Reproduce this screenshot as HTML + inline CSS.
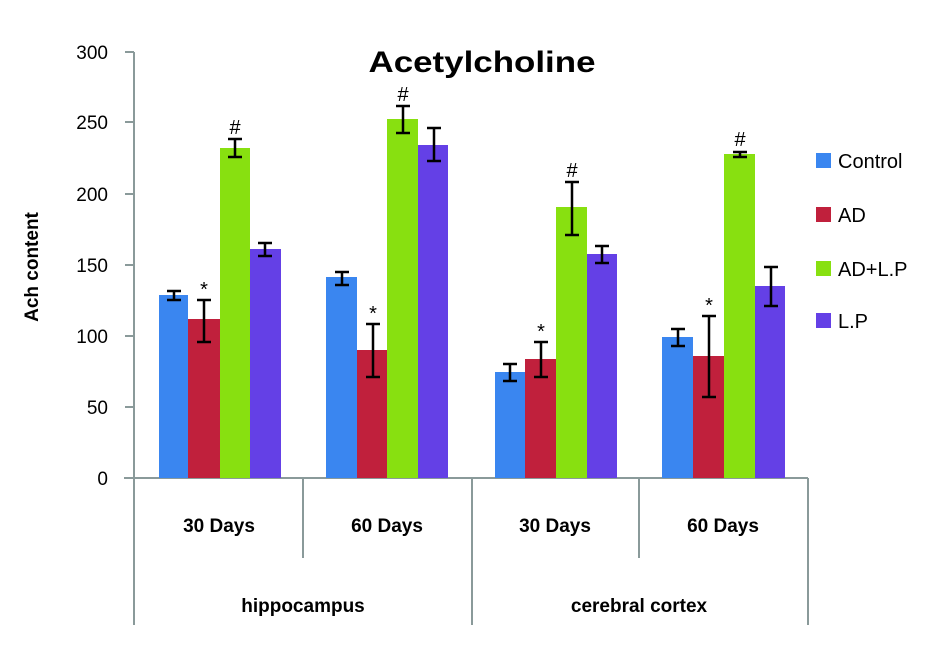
<!DOCTYPE html>
<html><head><meta charset="utf-8"><style>body{margin:0;background:#fff}svg{display:block}</style></head><body>
<svg width="948" height="654" xmlns="http://www.w3.org/2000/svg" font-family="Liberation Sans, sans-serif">
<rect width="948" height="654" fill="#fff"/>
<text x="482" y="72" font-size="30" font-weight="bold" text-anchor="middle" textLength="227" lengthAdjust="spacingAndGlyphs">Acetylcholine</text>
<g stroke="#8a9a9a" stroke-width="2" fill="none">
<line x1="134" y1="52" x2="134" y2="625"/>
<line x1="124" y1="478" x2="808" y2="478"/>
<line x1="125" y1="52" x2="134" y2="52"/><line x1="125" y1="122" x2="134" y2="122"/><line x1="125" y1="194" x2="134" y2="194"/><line x1="125" y1="265" x2="134" y2="265"/><line x1="125" y1="336" x2="134" y2="336"/><line x1="125" y1="407" x2="134" y2="407"/>
<line x1="303" y1="478" x2="303" y2="558"/><line x1="472" y1="478" x2="472" y2="625"/><line x1="639" y1="478" x2="639" y2="558"/><line x1="808" y1="478" x2="808" y2="625"/>
</g>
<g font-size="19" text-anchor="end" fill="#000">
<text x="108" y="59">300</text><text x="108" y="129">250</text><text x="108" y="201">200</text><text x="108" y="272">150</text><text x="108" y="343">100</text><text x="108" y="414">50</text><text x="108" y="485">0</text>
</g>
<text transform="translate(38,267) rotate(-90)" font-size="19" font-weight="bold" text-anchor="middle">Ach content</text>
<g font-size="19" font-weight="bold" text-anchor="middle">
<text x="219" y="532">30 Days</text><text x="387" y="532">60 Days</text><text x="555" y="532">30 Days</text><text x="723" y="532">60 Days</text>
<text x="303" y="612">hippocampus</text><text x="639" y="612">cerebral cortex</text>
</g>
<g>
<rect x="159" y="295" width="29" height="183" fill="#3a86f0"/><rect x="188" y="319" width="32" height="159" fill="#c0203c"/><rect x="220" y="148" width="30" height="330" fill="#88e010"/><rect x="250" y="249" width="31" height="229" fill="#6440e6"/>
<rect x="326" y="277" width="31" height="201" fill="#3a86f0"/><rect x="357" y="350" width="30" height="128" fill="#c0203c"/><rect x="387" y="119" width="31" height="359" fill="#88e010"/><rect x="418" y="145" width="30" height="333" fill="#6440e6"/>
<rect x="495" y="372" width="30" height="106" fill="#3a86f0"/><rect x="525" y="359" width="31" height="119" fill="#c0203c"/><rect x="556" y="207" width="31" height="271" fill="#88e010"/><rect x="587" y="254" width="30" height="224" fill="#6440e6"/>
<rect x="662" y="337" width="31" height="141" fill="#3a86f0"/><rect x="693" y="356" width="31" height="122" fill="#c0203c"/><rect x="724" y="154" width="31" height="324" fill="#88e010"/><rect x="755" y="286" width="30" height="192" fill="#6440e6"/>
</g>
<g stroke="#000" stroke-width="2.5" fill="none">
<path d="M174 291V300M167 291H181M167 300H181"/>
<path d="M204 300V342M197 300H211M197 342H211"/>
<path d="M235 139V157M228 139H242M228 157H242"/>
<path d="M265 243V256M258 243H272M258 256H272"/>
<path d="M342 272V285M335 272H349M335 285H349"/>
<path d="M373 324V377M366 324H380M366 377H380"/>
<path d="M403 106V133M396 106H410M396 133H410"/>
<path d="M434 128V161M427 128H441M427 161H441"/>
<path d="M510 364V381M503 364H517M503 381H517"/>
<path d="M541 342V377M534 342H548M534 377H548"/>
<path d="M572 182V235M565 182H579M565 235H579"/>
<path d="M602 246V263M595 246H609M595 263H609"/>
<path d="M678 329V346M671 329H685M671 346H685"/>
<path d="M709 316V397M702 316H716M702 397H716"/>
<path d="M740 152V157M733 152H747M733 157H747"/>
<path d="M771 267V306M764 267H778M764 306H778"/>
</g>
<g font-size="20" text-anchor="middle">
<text x="204" y="296">*</text><text x="373" y="320">*</text><text x="541" y="338">*</text><text x="709" y="312">*</text>
<text x="235" y="134">#</text><text x="403" y="101">#</text><text x="572" y="177">#</text><text x="740" y="146">#</text>
</g>
<g font-size="20">
<rect x="816" y="153" width="15" height="15" fill="#3a86f0"/><text x="838" y="168">Control</text>
<rect x="816" y="207" width="15" height="15" fill="#c0203c"/><text x="838" y="222">AD</text>
<rect x="816" y="261" width="15" height="15" fill="#88e010"/><text x="838" y="276">AD+L.P</text>
<rect x="816" y="313" width="15" height="15" fill="#6440e6"/><text x="838" y="328">L.P</text>
</g>
</svg>
</body></html>
